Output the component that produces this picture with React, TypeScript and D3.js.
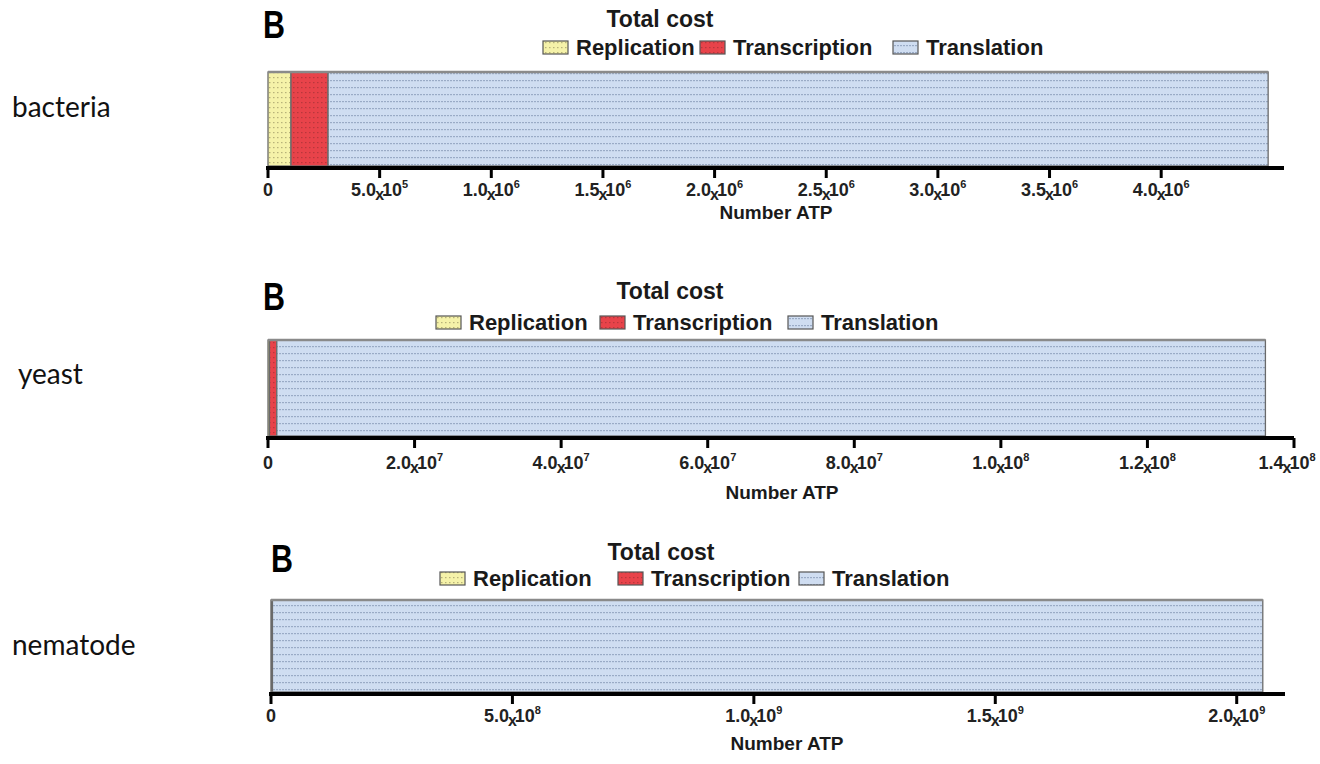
import * as d3 from "d3";

// ---- data ----
const organisms: string[] = ["bacteria", "yeast", "nematode"];
const seriesNames: string[] = ["Replication", "Transcription", "Translation"];
const replication: number[] = [1.03e5, 2.0e5, 1.0e6];
const transcription: number[] = [1.66e5, 1.0e6, 2.0e6];
const translation: number[] = [4.21e6, 1.349e8, 2.051e9];
const axisMax: number[] = [4.55e6, 1.4e8, 2.1e9];
const tickValues: number[][] = [
    [0, 5e5, 1e6, 1.5e6, 2e6, 2.5e6, 3e6, 3.5e6, 4e6],
    [0, 2e7, 4e7, 6e7, 8e7, 1e8, 1.2e8, 1.4e8],
    [0, 5e8, 1e9, 1.5e9, 2e9],
];
const panelLetter = "B";
const chartTitle = "Total cost";
const axisTitle = "Number ATP";

// ---- layout (pixels) ----
type PanelLayout = {
    x0: number, x1: number,
    barTop: number, barBottom: number, axisY: number,
    letterX: number, letterY: number,
    titleX: number, titleY: number,
    legendY: number, legendX: number[],
    labelX: number, labelY: number,
    tickY: number, axisTitleX: number, axisTitleY: number,
}
const layouts: PanelLayout[] = [
    { x0: 268, x1: 1284, barTop: 72, barBottom: 166, axisY: 168, letterX: 263, letterY: 38,
      titleX: 660, titleY: 27, legendY: 47, legendX: [543, 700, 893], labelX: 12, labelY: 117,
      tickY: 196, axisTitleX: 776, axisTitleY: 219 },
    { x0: 268, x1: 1294, barTop: 340, barBottom: 436, axisY: 438, letterX: 263, letterY: 310,
      titleX: 670, titleY: 299, legendY: 322, legendX: [436, 600, 788], labelX: 18, labelY: 384,
      tickY: 469, axisTitleX: 782, axisTitleY: 499 },
    { x0: 271, x1: 1285, barTop: 600, barBottom: 692, axisY: 694, letterX: 271, letterY: 572,
      titleX: 661, titleY: 560, legendY: 578, legendX: [440, 618, 799], labelX: 12, labelY: 655,
      tickY: 722, axisTitleX: 787, axisTitleY: 750 },
];

const patternIds: Record<string, string> = {
    Replication: "pRep", Transcription: "pTrans", Translation: "pTransl",
};

const FONT = "'Liberation Sans', Arial, sans-serif";
const WIDTH = 1320;

function tickParts(v: number): { m: string, e: string } | null {
    if (v === 0) return null;
    const e = Math.floor(Math.log10(v) + 1e-9);
    return { m: (v / 10 ** e).toFixed(1), e: String(e) };
}

export default function App() {
    const rows = organisms.map((o, i) => ({
        organism: o,
        Replication: replication[i]!,
        Transcription: transcription[i]!,
        Translation: translation[i]!,
    }));
    const stacked = d3.stack<any>().keys(seriesNames)(rows);

    return <svg width={WIDTH} height={764} style={{ position: "absolute", left: 0, top: 0, background: "#fff" }}>
        <defs>
            <pattern id="pRep" width={4} height={5} patternUnits="userSpaceOnUse">
                <rect width={4} height={5} fill="#f5f2a9" />
                <rect x={1} y={2} width={1.5} height={1.2} fill="#b7b27a" />
            </pattern>
            <pattern id="pTrans" width={4} height={5} patternUnits="userSpaceOnUse">
                <rect width={4} height={5} fill="#e8434a" />
                <rect x={1} y={2} width={1.5} height={1.2} fill="#b9363c" />
            </pattern>
            <pattern id="pTransl" width={3} height={7} patternUnits="userSpaceOnUse">
                <rect width={3} height={7} fill="#cfddf1" />
                <rect x={0} y={3} width={2} height={1.2} fill="#9aabc6" />
            </pattern>
        </defs>

        {layouts.map((L, i) => {
            const x = d3.scaleLinear().domain([0, axisMax[i]!]).range([L.x0, L.x1]);
            return <g key={organisms[i]}>
                <text x={L.labelX} y={L.labelY} fontFamily="Lato, 'Noto Sans', sans-serif"
                    fontSize={28} fill="#111">{organisms[i]}</text>

                <text transform={`translate(${L.letterX},${L.letterY}) scale(0.78,1)`}
                    fontFamily={FONT} fontWeight="bold" fontSize={39} fill="#000">{panelLetter}</text>

                <text x={L.titleX} y={L.titleY} textAnchor="middle" fontFamily={FONT}
                    fontWeight="bold" fontSize={23} fill="#1a1a1a">{chartTitle}</text>

                {seriesNames.map((s, k) => <g key={s}>
                    <rect x={L.legendX[k]} y={L.legendY - 6} width={25} height={13}
                        fill={`url(#${patternIds[s]})`} stroke="#555" strokeWidth={1.2} />
                    <text x={L.legendX[k]! + 33} y={L.legendY + 8} fontFamily={FONT}
                        fontWeight="bold" fontSize={22} fill="#1a1a1a">{s}</text>
                </g>)}

                {stacked.map(s => {
                    const d = s[i]!;
                    const w = x(d[1]) - x(d[0]);
                    return <rect key={s.key} x={x(d[0])} y={L.barTop} width={Math.max(w, 0.5)}
                        height={L.barBottom - L.barTop} fill={`url(#${patternIds[s.key]})`}
                        stroke="#6a6a6a" strokeWidth={1.3} />;
                })}
                <line x1={x(0)} x2={x(d3.sum(stacked, s => s[i]![1] - s[i]![0]))}
                    y1={L.barTop} y2={L.barTop} stroke="#8a8a8a" strokeWidth={2.5} />

                <line x1={x(0) - 2} x2={L.x1} y1={L.axisY} y2={L.axisY} stroke="#000" strokeWidth={4} />
                {tickValues[i]!.map(t => {
                    const p = tickParts(t);
                    // keep the last label inside the page
                    const lx = Math.min(x(t), WIDTH - 33);
                    return <g key={t}>
                        <line x1={x(t)} x2={x(t)} y1={L.axisY} y2={L.axisY + 10} stroke="#000" strokeWidth={3} />
                        <text x={lx} y={L.tickY} textAnchor="middle" fontFamily={FONT}
                            fontWeight="bold" fontSize={18} fill="#222">
                            {p == null ? "0" : <>
                                {p.m}
                                <tspan fontSize={16} dy={4} dx={-1}>x</tspan>
                                <tspan dy={-4} dx={-2}>10</tspan>
                                <tspan fontSize={11} dy={-8}>{p.e}</tspan>
                            </>}
                        </text>
                    </g>;
                })}

                <text x={L.axisTitleX} y={L.axisTitleY} textAnchor="middle" fontFamily={FONT}
                    fontWeight="bold" fontSize={19} fill="#1a1a1a">{axisTitle}</text>
            </g>;
        })}
    </svg>;
}
